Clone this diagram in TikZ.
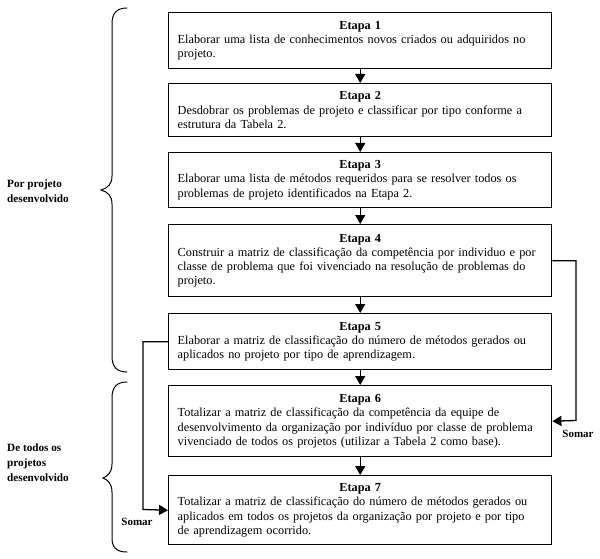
\documentclass[tikz,border=0pt]{standalone}
\usepackage{fontspec}
\setmainfont{Liberation Serif}
\usetikzlibrary{arrows.meta}
\begin{document}
\begin{tikzpicture}[x=1pt,y=-1pt,
  stepbox/.style={draw, line width=1.4pt, anchor=north west, minimum width=383pt,
    text width=365pt, inner xsep=9pt, inner ysep=0pt,
    font=\fontsize{12.3}{14.2}\selectfont},
  conn/.style={line width=1.3pt, -{Triangle[length=9pt,width=10pt]}},
  bracestyle/.style={line width=1pt, line cap=round},
  sidelabel/.style={anchor=west, align=left, inner sep=0pt, font=\fontsize{11.2}{15}\selectfont\bfseries},
  somar/.style={inner sep=0pt, font=\fontsize{11}{13}\selectfont\bfseries}]
\useasboundingbox (0,0) rectangle (600,559);

\node[stepbox, minimum height=56pt] (b1) at (168,12) {\centering\textbf{Etapa 1}\par\raggedright
Elaborar uma lista de conhecimentos novos criados ou adquiridos no\\projeto.};
\node[stepbox, minimum height=53pt] (b2) at (168,83) {\centering\textbf{Etapa 2}\par\raggedright
Desdobrar os problemas de projeto e classificar por tipo conforme a\\estrutura da Tabela 2.};
\node[stepbox, minimum height=55pt] (b3) at (168,152) {\centering\textbf{Etapa 3}\par\raggedright
Elaborar uma lista de métodos requeridos para se resolver todos os\\problemas de projeto identificados na Etapa 2.};
\node[stepbox, minimum height=72pt] (b4) at (168,224) {\centering\textbf{Etapa 4}\par\raggedright
Construir a matriz de classificação da competência por individuo e por\\classe de problema que foi vivenciado na resolução de problemas do\\projeto.};
\node[stepbox, minimum height=56pt] (b5) at (168,313) {\centering\textbf{Etapa 5}\par\raggedright
Elaborar a matriz de classificação do número de métodos gerados ou\\aplicados no projeto por tipo de aprendizagem.};
\node[stepbox, minimum height=71pt] (b6) at (168,385) {\centering\textbf{Etapa 6}\par\raggedright
Totalizar a matriz de classificação da competência da equipe de\\desenvolvimento da organização por indivíduo por classe de problema\\vivenciado de todos os projetos (utilizar a Tabela 2 como base).};
\node[stepbox, minimum height=69pt] (b7) at (168,475) {\centering\textbf{Etapa 7}\par\raggedright
Totalizar a matriz de classificação do número de métodos gerados ou\\aplicados em todos os projetos da organização por projeto e por tipo\\de aprendizagem ocorrido.};

\foreach \a/\b in {b1/b2,b2/b3,b3/b4,b4/b5,b5/b6,b6/b7}
  \draw[conn] (\a.south) -- (\b.north);

\coordinate (rc) at (576,420.5);
\coordinate (lc) at (143,509.5);
\draw[conn] (b4.east) -| (rc) -- (b6.east);
\draw[conn] (b5.west) -| (lc) -- (b7.west);

\node[somar] (s1) at (578,434) {Somar};
\node[somar] (s2) at (137,522) {Somar};

% braces
\draw[bracestyle] (127,8) .. controls (116,8) and (112,14) .. (112,24)
  -- (112,176) .. controls (112,184) and (108,188) .. (101,190)
  .. controls (108,192) and (112,196) .. (112,204)
  -- (112,356) .. controls (112,366) and (116,372) .. (127,372);
\draw[bracestyle] (127,382) .. controls (116,382) and (112,388) .. (112,398)
  -- (112,464) .. controls (112,472) and (108,476) .. (103,478)
  .. controls (108,480) and (112,484) .. (112,492)
  -- (112,538) .. controls (112,547) and (116,552) .. (127,552);

\node[sidelabel] (l1) at (7,191) {Por projeto\\desenvolvido};
\node[sidelabel] (l2) at (7,463) {De todos os\\projetos\\desenvolvido};
\end{tikzpicture}
\end{document}
